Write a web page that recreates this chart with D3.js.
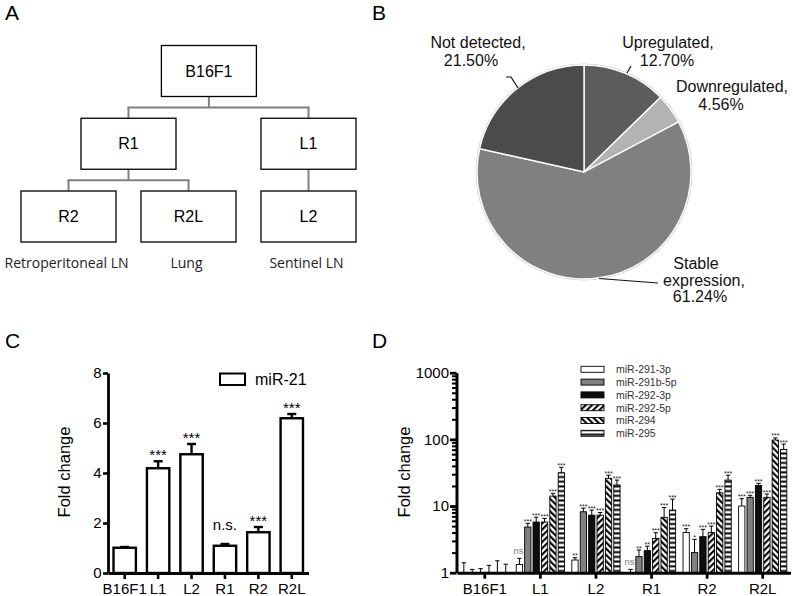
<!DOCTYPE html>
<html><head><meta charset="utf-8">
<script src="https://cdn.jsdelivr.net/npm/d3@7"></script>
<style>
body{margin:0;background:#fff}
svg{display:block}
text{font-family:"Liberation Sans",Arial,sans-serif}
</style>
</head><body>
<svg id="fig" width="793" height="596"></svg>
<script>
// ---------------- DATA ----------------
// Panel A: lineage tree
const treeNodes   = ["B16F1","R1","L1","R2","R2L","L2"];
const treeParents = [null,"B16F1","B16F1","R1","R1","L1"];
const tissueLabels = ["Retroperitoneal LN","Lung","Sentinel LN"];
const tissueNodes  = ["R2","R2L","L2"];

// Panel B: pie
const pieLabels = ["Upregulated,","Downregulated,","Stable expression,","Not detected,"];
const pieValues = [12.70, 4.56, 61.24, 21.50];

// Panel C: miR-21
const cCategories = ["B16F1","L1","L2","R1","R2","R2L"];
const cValues  = [1.01, 4.19, 4.75, 1.09, 1.63, 6.19];
const cErrors  = [0.03, 0.28, 0.41, 0.07, 0.21, 0.17];
const cSignif  = ["", "***", "***", "n.s.", "***", "***"];
const cTicks   = [0, 2, 4, 6, 8];
const cSeries  = "miR-21";

// Panel D: miR-290 cluster (values per series across groups)
const dGroups = ["B16F1","L1","L2","R1","R2","R2L"];
const dSeries = ["miR-291-3p","miR-291b-5p","miR-292-3p","miR-292-5p","miR-294","miR-295"];
const d291_3p  = [1, 1.33, 1.55, 1.00, 4.0, 10.0];
const d291b_5p = [1, 4.84, 8.2, 1.74, 2.0, 13.5];
const d292_3p  = [1, 5.75, 7.3, 2.14, 3.47, 20.4];
const d292_5p  = [1, 5.75, 7.3, 3.27, 4.0, 13.5];
const d294     = [1, 14.1, 26, 6.76, 15.8, 97.7];
const d295     = [1, 31.6, 20.7, 8.7, 24.5, 70.8];
const e291_3p  = [1.41, 1.64, 1.68, 1.12, 4.57, 12.9];
const e291b_5p = [1.12, 5.5, 9.3, 2.19, 3.16, 14.5];
const e292_3p  = [1.15, 6.8, 8.7, 2.5, 4.47, 21.9];
const e292_5p  = [1.29, 6.5, 8.0, 3.98, 5.0, 15.1];
const e294     = [1.51, 15.5, 29, 9.5, 17.8, 105];
const e295     = [1.34, 38, 24.5, 12.7, 29, 85];
const s291_3p  = ["", "ns", "**", "ns", "***", "***"];
const s291b_5p = ["", "***", "***", "**", "*", "***"];
const s292_3p  = ["", "***", "***", "**", "***", "***"];
const s292_5p  = ["", "***", "***", "***", "***", "***"];
const s294     = ["", "***", "***", "***", "***", "***"];
const s295     = ["", "***", "***", "***", "***", "***"];
const dMajorTicks = [1, 10, 100, 1000];
const dMinorTicks = [2,3,4,5,6,7,8,9,20,30,40,50,60,70,80,90,200,300,400,500,600,700,800,900];

const dValues = [d291_3p, d291b_5p, d292_3p, d292_5p, d294, d295];
const dErrTop = [e291_3p, e291b_5p, e292_3p, e292_5p, e294, e295];
const dSignif = [s291_3p, s291b_5p, s292_3p, s292_5p, s294, s295];

// ---------------- DRAW ----------------
const svg = d3.select("#fig");
const defs = svg.append("defs");
function stripe(id, angle){
  const p = defs.append("pattern").attr("id", id).attr("patternUnits","userSpaceOnUse")
    .attr("width",4.4).attr("height",4.4).attr("patternTransform",`rotate(${angle})`);
  p.append("rect").attr("width",4.4).attr("height",4.4).attr("fill","#fff");
  p.append("rect").attr("width",2.1).attr("height",4.4).attr("fill","#000");
}
stripe("diagR", 45);
stripe("diagL", -45);
{
  const p = defs.append("pattern").attr("id","horiz").attr("patternUnits","userSpaceOnUse")
    .attr("width",6).attr("height",4.7);
  p.append("rect").attr("width",6).attr("height",4.7).attr("fill","#fff");
  p.append("rect").attr("y",1.3).attr("width",6).attr("height",2.0).attr("fill","#000");
}
const dFills = ["#ffffff","#808080","#0d0d0d","url(#diagR)","url(#diagL)","url(#horiz)"];

// panel letters
[["A",5,20],["B",372,20],["C",5,348],["D",372,348]].forEach(([t,x,y])=>{
  svg.append("text").attr("x",x).attr("y",y).attr("font-size",21).text(t);
});

function styleAxis(a, w){
  a.select(".domain").style("stroke","#000").style("stroke-width",w);
  a.selectAll(".tick line").style("stroke","#000").style("stroke-width",w-0.2);
  a.selectAll("text").attr("font-size",15).attr("fill","#000").style("font-family","'Liberation Sans',Arial,sans-serif");
}

// ---- Panel A ----
{
  const colX = d3.scaleLinear().domain([0,2]).range([68.5,308.5]);
  const rowY = d3.scaleLinear().domain([0,2]).range([71,216.5]);
  const depth = n => { let d=0, p=treeParents[treeNodes.indexOf(n)]; while(p){d++; p=treeParents[treeNodes.indexOf(p)];} return d; };
  const leafCol = {R2:0, R2L:1, L2:2};
  const pos = {};
  treeNodes.forEach(n=>{ if(leafCol[n]!==undefined) pos[n]={c:leafCol[n], r:depth(n)}; });
  pos.R1 = {c:(pos.R2.c+pos.R2L.c)/2, r:1};
  pos.L1 = {c:pos.L2.c, r:1};
  pos.B16F1 = {c:1.17, r:0};
  const bw=95, bh=51;
  const g = svg.append("g");
  treeNodes.forEach(par=>{
    const kids = treeNodes.filter((n,i)=>treeParents[i]===par);
    if(!kids.length) return;
    const px = colX(pos[par].c), pyB = rowY(pos[par].r)+bh/2;
    const cyT = rowY(pos[kids[0]].r)-bh/2;
    const mid = (pyB+cyT)/2;
    const ln = (x1,y1,x2,y2)=>g.append("line").attr("x1",x1).attr("y1",y1).attr("x2",x2).attr("y2",y2)
      .attr("stroke","#808080").attr("stroke-width",2);
    if(kids.length===1 && Math.abs(colX(pos[kids[0]].c)-px)<1){ ln(px,pyB,px,cyT); return; }
    ln(px,pyB,px,mid);
    const xs = kids.map(k=>colX(pos[k].c));
    ln(d3.min(xs)-1,mid,d3.max(xs)+1,mid);
    xs.forEach(x=>ln(x,mid,x,cyT));
  });
  treeNodes.forEach(n=>{
    const x=colX(pos[n].c), y=rowY(pos[n].r);
    g.append("rect").attr("x",x-bw/2).attr("y",y-bh/2).attr("width",bw).attr("height",bh)
      .attr("fill","#fff").attr("stroke","#000").attr("stroke-width",1.3);
    g.append("text").attr("x",x).attr("y",y+5.5).attr("text-anchor","middle").attr("font-size",16).text(n);
  });
  tissueLabels.forEach((t,i)=>{
    g.append("text").attr("x",colX(pos[tissueNodes[i]].c)-2).attr("y",268).attr("text-anchor","middle")
      .attr("font-size",14).style("font-family","'Open Sans',sans-serif").attr("fill","#222").text(t);
  });
}

// ---- Panel B ----
{
  const cx=584, cy=172, R=107;
  const pieColors = ["#5c5c5c","#b3b3b3","#808080","#4b4b4b"];
  const arcs = d3.pie().sort(null).value(d=>d)(pieValues);
  const arc = d3.arc().innerRadius(0).outerRadius(R);
  const g = svg.append("g").attr("transform",`translate(${cx},${cy})`);
  g.append("circle").attr("r",R+0.8).attr("fill","none").attr("stroke","#d0d0d0").attr("stroke-width",1.2);
  g.selectAll("path").data(arcs).join("path").attr("d",arc)
    .attr("fill",(d,i)=>pieColors[i]).attr("stroke","#fff").attr("stroke-width",1.4);
  const pct = v => v.toFixed(2)+"%";
  const lay = [
    {lines:[[pieLabels[0],668,48],[pct(pieValues[0]),667,66]], lead:[[631,66],[627,73]]},
    {lines:[[pieLabels[1],732,92],[pct(pieValues[1]),721,110]], lead:null},
    {lines:[["Stable",696,269],["expression,",704,285.5],[pct(pieValues[2]),700,302]], lead:[[599,278.5],[658,283]]},
    {lines:[[pieLabels[3],478,48],[pct(pieValues[3]),471,66]], lead:[[506,77],[511,77],[518,88]]}
  ];
  lay.forEach(L=>{
    L.lines.forEach(([t,x,y])=>svg.append("text").attr("x",x).attr("y",y).attr("text-anchor","middle")
      .attr("font-size",16).attr("fill","#111").text(t));
    if(L.lead) svg.append("path").attr("d",d3.line()(L.lead)).attr("fill","none").attr("stroke","#111").attr("stroke-width",1.2);
  });
}

// ---- Panel C ----
{
  const x = d3.scaleBand().domain(cCategories).range([108,308.5]).paddingInner(0.33).paddingOuter(0.165);
  const y = d3.scaleLinear().domain([0,8]).range([573,373]);
  const g = svg.append("g");
  const bw = x.bandwidth();
  cCategories.forEach((c,i)=>{
    const xc = x(c)+bw/2, top=y(cValues[i]), et=y(cValues[i]+cErrors[i]);
    g.append("line").attr("x1",xc).attr("x2",xc).attr("y1",top).attr("y2",et).attr("stroke","#000").attr("stroke-width",2.4);
    g.append("line").attr("x1",xc-4.5).attr("x2",xc+4.5).attr("y1",et).attr("y2",et).attr("stroke","#000").attr("stroke-width",2.4);
    g.append("rect").attr("x",x(c)).attr("y",top).attr("width",bw).attr("height",y(0)-top)
      .attr("fill","#fff").attr("stroke","#000").attr("stroke-width",2.4);
    if(cSignif[i]){
      const isNs = cSignif[i]==="n.s.";
      g.append("text").attr("x",xc).attr("y",isNs? et-14 : et-1).attr("text-anchor","middle")
        .attr("font-size",15).text(cSignif[i]);
    }
  });
  const ya = g.append("g").attr("transform","translate(108,0)")
    .call(d3.axisLeft(y).tickValues(cTicks).tickSize(5).tickPadding(1.5).tickSizeOuter(0));
  const xa = g.append("g").attr("transform","translate(0,573)")
    .call(d3.axisBottom(x).tickSize(6).tickPadding(4.4).tickSizeOuter(0));
  styleAxis(ya, 2.8); styleAxis(xa, 2.8);
  g.append("text").attr("transform","translate(70,472) rotate(-90)").attr("text-anchor","middle")
    .attr("font-size",16.5).text("Fold change");
  g.append("rect").attr("x",220).attr("y",373.5).attr("width",25).attr("height",11.5)
    .attr("fill","#fff").attr("stroke","#000").attr("stroke-width",2);
  g.append("text").attr("x",255).attr("y",385).attr("font-size",16).text(cSeries);
}

// ---- Panel D ----
{
  const x0 = d3.scaleBand().domain(dGroups).range([457,790.5]).paddingInner(0.095).paddingOuter(0.0475);
  const x1 = d3.scaleBand().domain(dSeries).range([0,x0.bandwidth()]).paddingInner(0.25).paddingOuter(0.125);
  const y = d3.scaleLog().domain([1,1000]).range([572.7,372.7]);
  const g = svg.append("g");
  const bw = x1.bandwidth();
  dSeries.forEach((s,si)=>{
    dGroups.forEach((grp,gi)=>{
      const v = dValues[si][gi], e = dErrTop[si][gi];
      const bx = x0(grp)+x1(s), xc = bx+bw/2, top=y(v), et=y(e);
      g.append("line").attr("x1",xc).attr("x2",xc).attr("y1",top).attr("y2",et).attr("stroke","#000").attr("stroke-width",1);
      g.append("line").attr("x1",xc-2.2).attr("x2",xc+2.2).attr("y1",et).attr("y2",et).attr("stroke","#000").attr("stroke-width",1);
      if(y(1)-top>0.1)
        g.append("rect").attr("x",bx).attr("y",top).attr("width",bw).attr("height",y(1)-top)
          .attr("fill",dFills[si]).attr("stroke","#000").attr("stroke-width",0.9);
      const sg = dSignif[si][gi];
      if(sg){
        if(sg==="ns") g.append("text").attr("x",xc-1).attr("y",et-4.5).attr("text-anchor","middle")
          .attr("font-size",9.5).attr("fill","#777").text(sg);
        else g.append("text").attr("x",xc).attr("y",et+0.5).attr("text-anchor","middle")
          .attr("font-size",7).attr("fill","#222").text(sg);
      }
    });
  });
  const ymin = g.append("g").attr("transform","translate(456.5,0)")
    .call(d3.axisLeft(y).tickValues(dMinorTicks).tickSize(4.5).tickFormat("").tickSizeOuter(0));
  const ya = g.append("g").attr("transform","translate(456.5,0)")
    .call(d3.axisLeft(y).tickValues(dMajorTicks).tickSize(6.5).tickPadding(1).tickFormat(d3.format("d")).tickSizeOuter(0));
  const xa = g.append("g").attr("transform","translate(0,572.7)")
    .call(d3.axisBottom(x0).tickSize(6).tickPadding(4.6).tickSizeOuter(0));
  ymin.select(".domain").remove();
  ymin.selectAll(".tick line").style("stroke","#000").style("stroke-width",2);
  styleAxis(ya, 3); styleAxis(xa, 3);
  g.append("text").attr("transform","translate(410,472) rotate(-90)").attr("text-anchor","middle")
    .attr("font-size",16.5).text("Fold change");
  const ly = d3.scalePoint().domain(dSeries).range([369.3,433.3]);
  dSeries.forEach((s,si)=>{
    g.append("rect").attr("x",581).attr("y",ly(s)-3).attr("width",23).attr("height",6)
      .attr("fill",dFills[si]).attr("stroke","#000").attr("stroke-width",0.9);
    g.append("text").attr("x",616).attr("y",ly(s)+3.8).attr("font-size",10.5).attr("fill","#333").text(s);
  });
}
</script>
</body></html>
